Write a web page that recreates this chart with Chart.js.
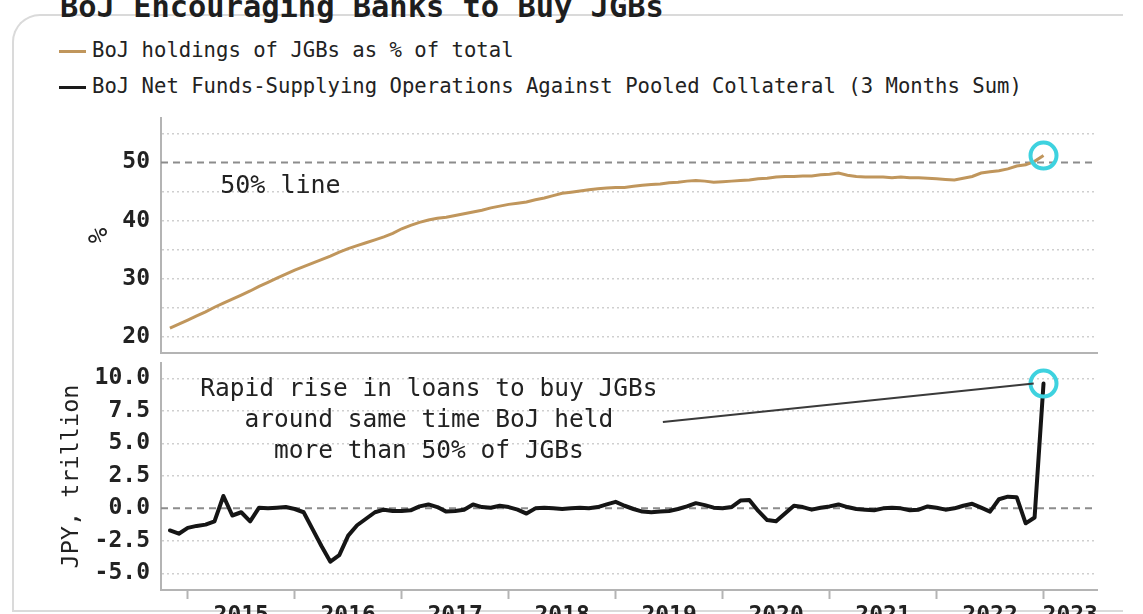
<!DOCTYPE html>
<html>
<head>
<meta charset="utf-8">
<script src="https://cdn.jsdelivr.net/npm/chart.js@4.4.1/dist/chart.umd.min.js"></script>
<style>
  html, body { margin: 0; padding: 0; background: #fff; overflow: hidden; }
  body { width: 1143px; height: 614px; position: relative; font-family: 'DejaVu Sans Mono', monospace; color: #2e2e2e; }
  #card { position: absolute; left: 12px; top: 14px; width: 1111px; height: 598px; box-sizing: border-box;
          border-left: 2px solid #dadada; border-top: 2px solid #dadada; border-bottom: 2px solid #dadada;
          border-top-left-radius: 28px; }
  #title { position: absolute; left: 60px; top: -8px; font-size: 30.4px; font-weight: bold; line-height: 30px; color: #1e1e1e; white-space: nowrap; }
  .leg { position: absolute; left: 59px; font-size: 20.6px; line-height: 24px; white-space: nowrap; color: #222; }
  .leg i { display: inline-block; width: 27px; height: 3px; vertical-align: middle; margin-right: 6px; }
  .wrap { position: absolute; left: 0; width: 1143px; }
</style>
</head>
<body>
<div id="card"></div>
<div id="title">BoJ Encouraging Banks to Buy JGBs</div>
<div class="leg" style="top:38px"><i style="background:#c0965c"></i>BoJ holdings of JGBs as % of total</div>
<div class="leg" style="top:74px"><i style="background:#1a1a1a"></i>BoJ Net Funds-Supplying Operations Against Pooled Collateral (3 Months Sum)</div>
<div class="wrap" style="top:110px;height:250px"><canvas id="holdingsChart"></canvas></div>
<div class="wrap" style="top:360px;height:280px"><canvas id="fundsChart"></canvas></div>
<script>
// ── Data ──────────────────────────────────────────────────────────
// x = months since Jan 2015, monthly from Nov 2014 to Jan 2023
const FIRST_MONTH = -2;

// BoJ holdings of JGBs, % of total
const holdings = [
  21.5, 22.2, 22.9, 23.6, 24.3, 25.1, 25.8, 26.5, 27.2, 27.9, 28.7, 29.4, 30.1, 30.8, 31.5,
  32.1, 32.7, 33.3, 33.9, 34.6, 35.2, 35.7, 36.2, 36.7, 37.2, 37.8, 38.6,
  39.2, 39.7, 40.1, 40.4, 40.6, 40.9, 41.2, 41.5, 41.8, 42.2, 42.5, 42.8,
  43.0, 43.2, 43.6, 43.9, 44.3, 44.7, 44.9, 45.1, 45.3, 45.5, 45.6, 45.7,
  45.7, 45.9, 46.1, 46.2, 46.3, 46.5, 46.6, 46.8, 46.9, 46.8, 46.6, 46.7,
  46.8, 46.9, 47.0, 47.2, 47.3, 47.5, 47.6, 47.6, 47.7, 47.7, 47.9, 48.0,
  48.2, 47.8, 47.6, 47.5, 47.5, 47.5, 47.4, 47.5, 47.4, 47.4, 47.3, 47.2,
  47.1, 47.0, 47.3, 47.6, 48.2, 48.4, 48.6, 48.9, 49.4, 49.6, 50.2, 51.2,
];

// Net funds-supplying operations against pooled collateral, 3m sum, JPY trillion
const netFunds = [
  -1.7, -1.95, -1.5, -1.35, -1.25, -1.0, 0.95, -0.55, -0.3, -1.0, 0.05, 0.0, 0.05, 0.1, -0.05,
  -0.3, -1.6, -2.9, -4.1, -3.6, -2.1, -1.3, -0.8, -0.3, -0.1, -0.2, -0.2,
  -0.15, 0.15, 0.3, 0.1, -0.25, -0.2, -0.1, 0.3, 0.1, 0.05, 0.2, 0.1,
  -0.1, -0.4, 0.0, 0.05, 0.0, -0.05, 0.0, 0.05, 0.0, 0.1, 0.3, 0.5,
  0.2, -0.05, -0.25, -0.3, -0.25, -0.2, -0.05, 0.15, 0.4, 0.25, 0.05, 0.0,
  0.1, 0.6, 0.65, -0.2, -0.9, -1.0, -0.4, 0.2, 0.1, -0.1, 0.05, 0.15,
  0.3, 0.1, -0.05, -0.1, -0.15, 0.0, 0.05, 0.0, -0.15, -0.1, 0.15, 0.05,
  -0.1, 0.0, 0.2, 0.35, 0.05, -0.25, 0.7, 0.9, 0.85, -1.15, -0.7, 9.6,
];

const months = holdings.map((_, i) => FIRST_MONTH + i);

const yearLabels = ['2015', '2016', '2017', '2018', '2019', '2020', '2021', '2022', '2023'];
const yearStarts = [0, 12, 24, 36, 48, 60, 72, 84, 96];
const holdTicks  = [20, 25, 30, 35, 40, 45, 50, 55];
const fundTicks  = [-5, -2.5, 0, 2.5, 5, 7.5, 10];

const X_MIN = -3, X_MAX = 102;
const HOLD_MIN = 17.23, HOLD_MAX = 57.66;
const FUND_MIN = -6.28, FUND_MAX = 11.18;

// annotations, in data units
const holdNote  = { lines: ['50% line'], at: [10.4, 45.8] };
const fundNote  = { lines: ['Rapid rise in loans to buy JGBs', 'around same time BoJ held', 'more than 50% of JGBs'], at: [27.05, 6.72] };
const fundArrow = { from: [53.3, 6.65], to: [94.9, 9.6] };

// year labels sit mid-year; the last one mid-way through the visible part
const labelPos = yearStarts.map((s, i) => i < yearStarts.length - 1 ? (s + yearStarts[i + 1]) / 2 : (s + X_MAX) / 2);

// ── Styling ───────────────────────────────────────────────────────
const FONT = 'DejaVu Sans Mono';
const clr = {
  gold:   '#c0965c',
  black:  '#151515',
  ring:   '#3ed2df',
  ref:    '#8c8c8c',
  grid:   '#cfcfcf',
  axis:   '#b4b4b4',
  text:   '#222222',
  arrow:  '#3a3a3a',
};
const tickFont = { family: FONT, size: 23, weight: 'bold' };

const xy = vals => months.map((m, i) => ({ x: m, y: vals[i] }));
const last = months.length - 1;

// the plot areas have to line up exactly, so drop the label-driven padding
const noPad = s => { s.paddingTop = 0; s.paddingBottom = 0; s.paddingLeft = 0; s.paddingRight = 0; };

const notePlugin = {
  id: 'notes',
  afterDatasetsDraw(chart, args, opts) {
    const { ctx, scales: { x, y } } = chart;
    ctx.save();
    (opts.arrows || []).forEach(a => {
      ctx.strokeStyle = clr.arrow;
      ctx.lineWidth = 2;
      ctx.beginPath();
      ctx.moveTo(x.getPixelForValue(a.from[0]), y.getPixelForValue(a.from[1]));
      ctx.lineTo(x.getPixelForValue(a.to[0]), y.getPixelForValue(a.to[1]));
      ctx.stroke();
    });
    (opts.texts || []).forEach(t => {
      ctx.font = opts.fontSize + 'px "' + FONT + '"';
      ctx.fillStyle = clr.text;
      ctx.textAlign = 'center';
      ctx.textBaseline = 'middle';
      const cx = x.getPixelForValue(t.at[0]);
      const cy = y.getPixelForValue(t.at[1]);
      t.lines.forEach((s, i) => ctx.fillText(s, cx, cy + (i - (t.lines.length - 1) / 2) * opts.lineHeight));
    });
    ctx.restore();
  },
};

const refLine = v => ({
  data: [{ x: X_MIN, y: v }, { x: X_MAX, y: v }],
  borderColor: clr.ref, borderWidth: 2, borderDash: [7, 5], pointRadius: 0, order: 3,
});

const ring = p => ({
  type: 'scatter', data: [p], pointRadius: 13, pointBorderWidth: 4,
  pointBorderColor: clr.ring, pointBackgroundColor: 'transparent', order: 1,
});

const yScale = (min, max, ticks, refValue, fmt, title, titlePad, titleSize) => ({
  min, max,
  afterBuildTicks: s => { s.ticks = ticks.map(v => ({ value: v })); },
  afterFit: s => { s.width = 161; noPad(s); },
  ticks: { callback: fmt, padding: 11, color: clr.text, font: tickFont },
  grid: { color: c => c.tick && c.tick.value === refValue ? 'transparent' : clr.grid, lineWidth: 1.5, drawTicks: false },
  border: { color: clr.axis, width: 2, dash: [2, 3] },
  title: { display: true, text: title, color: clr.text, font: { family: FONT, size: titleSize }, padding: { top: titlePad, bottom: 0 } },
});

Chart.defaults.animation = false;

// ── Top panel: holdings ───────────────────────────────────────────
new Chart(document.getElementById('holdingsChart'), {
  type: 'line',
  data: {
    datasets: [
      { label: 'BoJ holdings', data: xy(holdings), borderColor: clr.gold, borderWidth: 3, pointRadius: 0, tension: 0, order: 2 },
      refLine(50),
      ring({ x: months[last], y: holdings[last] }),
    ],
  },
  options: {
    responsive: true,
    maintainAspectRatio: false,
    layout: { autoPadding: false, padding: { top: 8, right: 46, left: 0, bottom: 0 } },
    plugins: {
      legend: { display: false },
      tooltip: { enabled: false },
      notes: { texts: [holdNote], fontSize: 25, lineHeight: 31 },
    },
    scales: {
      x: {
        type: 'linear', min: X_MIN, max: X_MAX,
        grid: { display: false },
        ticks: { display: false },
        border: { display: true, color: clr.axis, width: 2 },
        afterFit: s => { s.height = 7; noPad(s); },
      },
      y: yScale(HOLD_MIN, HOLD_MAX, holdTicks, 50, v => v % 10 === 0 ? String(v) : '', '%', 85, 26),
    },
  },
  plugins: [notePlugin],
});

// ── Bottom panel: net funds-supplying operations ─────────────────
new Chart(document.getElementById('fundsChart'), {
  type: 'line',
  data: {
    datasets: [
      { label: 'Net funds', data: xy(netFunds), borderColor: clr.black, borderWidth: 4, borderJoinStyle: 'round', borderCapStyle: 'round', pointRadius: 0, tension: 0, order: 2 },
      refLine(0),
      ring({ x: months[last], y: netFunds[last] }),
    ],
  },
  options: {
    responsive: true,
    maintainAspectRatio: false,
    layout: { autoPadding: false, padding: { top: 3, right: 46, left: 0, bottom: 0 } },
    plugins: {
      legend: { display: false },
      tooltip: { enabled: false },
      notes: { texts: [fundNote], arrows: [fundArrow], fontSize: 24.5, lineHeight: 31 },
    },
    scales: {
      x: {
        type: 'linear', min: X_MIN, max: X_MAX,
        afterBuildTicks: s => { s.ticks = [...yearStarts, ...labelPos].sort((a, b) => a - b).map(v => ({ value: v })); },
        afterFit: s => { s.height = 50; noPad(s); },
        ticks: {
          autoSkip: false, maxRotation: 0, minRotation: 0, padding: 3,
          color: clr.text, font: tickFont,
          callback: v => { const i = labelPos.indexOf(v); return i >= 0 ? yearLabels[i] : ''; },
        },
        grid: {
          drawOnChartArea: false, drawTicks: true, tickLength: 9, tickWidth: 2,
          tickColor: c => c.tick && yearStarts.includes(c.tick.value) ? clr.axis : 'transparent',
        },
        border: { display: true, color: clr.axis, width: 2 },
      },
      y: yScale(FUND_MIN, FUND_MAX, fundTicks, 0, v => v.toFixed(1), 'JPY, trillion', 58, 23.5),
    },
  },
  plugins: [notePlugin],
});
</script>
</body>
</html>
